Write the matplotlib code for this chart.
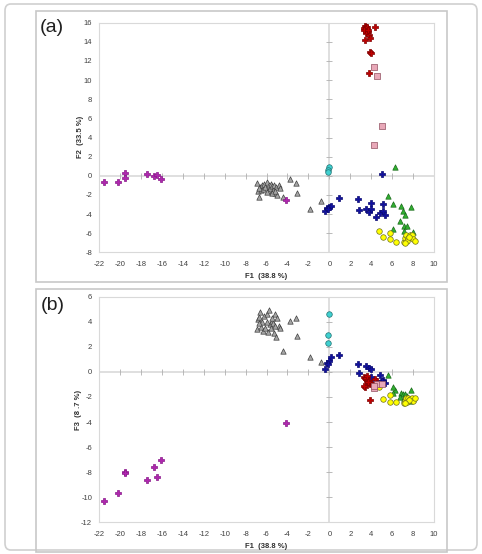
import matplotlib.pyplot as plt
from matplotlib.patches import FancyBboxPatch, Rectangle

plt.rcParams['font.family'] = ['Liberation Sans', 'DejaVu Sans']
plt.rcParams['axes.unicode_minus'] = False

# ---- data: F1, F2 (panel a), F3 (panel b) per group ----
red_f1 = [3.3, 3.4, 3.5, 3.6, 3.7, 3.5, 3.8, 3.9, 3.4, 4.4, 3.6, 3.3, 3.9, 4.0, 3.75, 3.7]
red_f2 = [15.4, 15.7, 15.5, 15.3, 15.0, 14.9, 14.7, 14.4, 14.2, 15.6, 15.6, 15.2, 12.9, 12.8, 10.7, 15.2]
red_f3 = [-0.4, -0.5, -0.6, -0.7, -0.8, -0.5, -0.9, -1.0, -1.2, -0.6, -0.3, -1.1, -2.25, -0.9, -0.7, -0.8]

pink_f1 = [4.25, 4.6, 5.05, 4.25]
pink_f2 = [11.4, 10.4, 5.2, 3.2]
pink_f3 = [-1.3, -1.0, -0.95, -1.15]

cyan_f1 = [-0.05, -0.1, -0.15]
cyan_f2 = [0.9, 0.6, 0.35]
cyan_f3 = [4.6, 2.95, 2.3]

mag_f1 = [-21.5, -20.2, -19.5, -19.5, -17.4, -16.7, -16.5, -16.1, -4.1]
mag_f2 = [-0.7, -0.6, 0.3, -0.2, 0.2, 0.0, 0.1, -0.3, -2.5]
mag_f3 = [-10.3, -9.65, -7.95, -8.05, -8.6, -7.6, -8.4, -7.0, -4.05]

gray_f1 = [-6.9, -6.8, -6.7, -6.6, -6.5, -6.4, -6.3, -6.2, -6.1, -6.0, -5.9, -5.8, -5.7,
           -5.6, -5.5, -5.4, -5.3, -5.2, -5.1, -5.0, -4.8, -4.7, -6.75, -6.0, -5.5, -5.15,
           -3.75, -3.2, -3.05, -4.4, -1.8, -0.8]
gray_f2 = [-0.8, -1.6, -2.2, -1.2, -1.5, -1.0, -1.4, -0.9, -1.2, -0.7, -1.6, -1.0, -1.3,
           -0.9, -1.1, -1.5, -1.0, -1.8, -1.2, -2.0, -1.0, -1.3, -1.3, -1.7, -1.8, -1.6,
           -0.35, -0.8, -1.85, -2.25, -3.5, -2.6]
gray_f3 = [3.4, 4.2, 4.4, 4.8, 3.6, 4.0, 3.3, 4.5, 3.5, 4.6, 3.2, 4.9, 3.8,
           3.5, 4.1, 3.9, 3.1, 4.6, 2.8, 4.3, 3.7, 3.5, 3.9, 4.0, 4.3, 3.7,
           4.1, 4.3, 2.9, 1.65, 1.2, 0.8]

blue_f1 = [-0.4, -0.25, 0.0, 0.15, -0.1, 0.95, 2.7, 2.8, 3.5, 3.8, 3.95, 4.0, 4.45,
           4.85, 5.15, 5.15, 5.3, 5.0]
blue_f2 = [-3.65, -3.4, -3.3, -3.15, -3.5, -2.3, -2.45, -3.6, -3.45, -3.8, -3.5, -2.85, -4.3,
           -3.85, -3.7, -3.0, -4.15, 0.15]
blue_f3 = [0.2, 0.75, 0.85, 1.2, 0.6, 1.35, 0.6, -0.1, 0.45, 0.3, 0.25, -0.4, -0.7,
           -0.25, -0.8, -0.65, -0.9, -0.7]

green_f1 = [6.3, 5.6, 6.1, 6.8, 7.0, 7.2, 7.85, 6.75, 7.15, 7.4, 6.05, 7.15, 8.0, 7.7, 7.5]
green_f2 = [0.9, -2.1, -2.9, -3.2, -3.7, -4.1, -3.3, -4.7, -5.3, -5.2, -5.6, -5.8, -5.85, -6.2, -6.4]
green_f3 = [-1.45, -0.25, -1.2, -1.7, -1.8, -1.8, -1.45, -2.0, -2.2, -1.9, -1.65, -2.1, -2.2, -2.3, -2.1]

yellow_f1 = [4.7, 5.1, 5.75, 5.8, 6.35, 7.1, 7.2, 7.3, 7.5, 7.7, 7.9, 7.95, 8.2, 7.4, 7.6, 7.25]
yellow_f2 = [-5.75, -6.45, -6.0, -6.6, -6.95, -6.9, -6.55, -6.2, -6.55, -6.2, -6.2, -6.65, -6.8, -6.8, -6.4, -7.0]
yellow_f3 = [-1.2, -2.15, -1.85, -2.4, -2.4, -2.5, -2.3, -2.05, -2.1, -2.2, -2.1, -2.3, -2.1, -2.4, -2.25, -2.45]

x_ticks = list(range(-22, 11, 2))
ya_ticks = list(range(-8, 17, 2))
yb_ticks = list(range(-12, 7, 2))

groups = [
    # f1, f2, f3, marker, face, edge, size
    (gray_f1, gray_f2, gray_f3, '^', '#a6a6a6', '#404040', 15),
    (mag_f1, mag_f2, mag_f3, 'P', '#b025b0', '#8a1a8a', 14),
    (cyan_f1, cyan_f2, cyan_f3, 'o', '#40d0d0', '#207070', 16),
    (blue_f1, blue_f2, blue_f3, 'P', '#1010a0', '#0a0a70', 14),
    (green_f1, green_f2, green_f3, '^', '#30b030', '#1a6a1a', 15),
    (yellow_f1, yellow_f2, yellow_f3, 'o', '#ffff00', '#707020', 16),
    (red_f1, red_f2, red_f3, 'P', '#c00000', '#800000', 14),
    (pink_f1, pink_f2, pink_f3, 's', '#e8a8b8', '#905060', 16),
]

W, H = 482, 554
fig = plt.figure(figsize=(W / 100, H / 100), dpi=100)

# outer rounded frame and panel boxes
fig.patches.append(FancyBboxPatch((5 / W, 4 / H), 472 / W, 546 / H,
                                  boxstyle='round,pad=0,rounding_size=0.012',
                                  transform=fig.transFigure, fc='none', ec='#d0d0d0', lw=1.2))
fig.patches.append(Rectangle((36 / W, (H - 282) / H), 411 / W, 271 / H,
                             transform=fig.transFigure, fc='none', ec='#c8c8c8', lw=1.2))
fig.patches.append(Rectangle((36 / W, (H - 552) / H), 411 / W, 263 / H,
                             transform=fig.transFigure, fc='none', ec='#c8c8c8', lw=1.2))


def setup(ax, yticks, ylim):
    ax.set_xlim(-22, 10)
    ax.set_ylim(*ylim)
    ax.set_xticks(x_ticks)
    ax.set_yticks(yticks)
    ax.tick_params(length=0, labelsize=5.5, colors='#404040')
    ax.tick_params(axis='x', pad=6)
    ax.tick_params(axis='y', pad=5)
    for s in ax.spines.values():
        s.set_color('#d9d9d9')
        s.set_linewidth(0.8)
    ax.axhline(0, color='#d9d9d9', lw=1.2, zorder=1)
    ax.axvline(0, color='#d9d9d9', lw=1.2, zorder=1)
    # small tick marks along the zero axes
    ax.plot(x_ticks, [0] * len(x_ticks), ls='none', marker='|', ms=4, mew=0.6,
            color='#b0b0b0', zorder=1)
    ax.plot([0] * len(yticks), yticks, ls='none', marker='_', ms=4, mew=0.6,
            color='#b0b0b0', zorder=1)


ax_a = fig.add_axes([99 / W, (H - 252.3) / H, 335 / W, 229.6 / H])
setup(ax_a, ya_ticks, (-8, 16))
ax_b = fig.add_axes([99 / W, (H - 522.3) / H, 335 / W, 225.6 / H])
setup(ax_b, yb_ticks, (-12, 6))

for f1, f2, f3, m, fc, ec, s in groups:
    ax_a.scatter(f1, f2, marker=m, s=s, c=fc, edgecolors=ec, linewidths=0.5, zorder=3)
    ax_b.scatter(f1, f3, marker=m, s=s, c=fc, edgecolors=ec, linewidths=0.5, zorder=3)

# axis titles
lab = dict(fontsize=5.5, fontweight='bold', color='#303030')
fig.text(266 / W, (H - 276) / H, 'F1  (38.8 %)', ha='center', va='center', **lab)
fig.text(266 / W, (H - 547) / H, 'F1  (38.8 %)', ha='center', va='center', **lab)
fig.text(80 / W, (H - 137) / H, 'F2  (33.5 %)', ha='center', va='center', rotation=90, **lab)
fig.text(78 / W, (H - 410) / H, 'F3  (8 .7 %)', ha='center', va='center', rotation=90, **lab)

# panel letters
fig.text(40 / W, (H - 28) / H, '(a)', fontsize=14, ha='left', va='center', color='#202020')
fig.text(41 / W, (H - 305) / H, '(b)', fontsize=14, ha='left', va='center', color='#202020')

fig.savefig('out.png', dpi=100)
